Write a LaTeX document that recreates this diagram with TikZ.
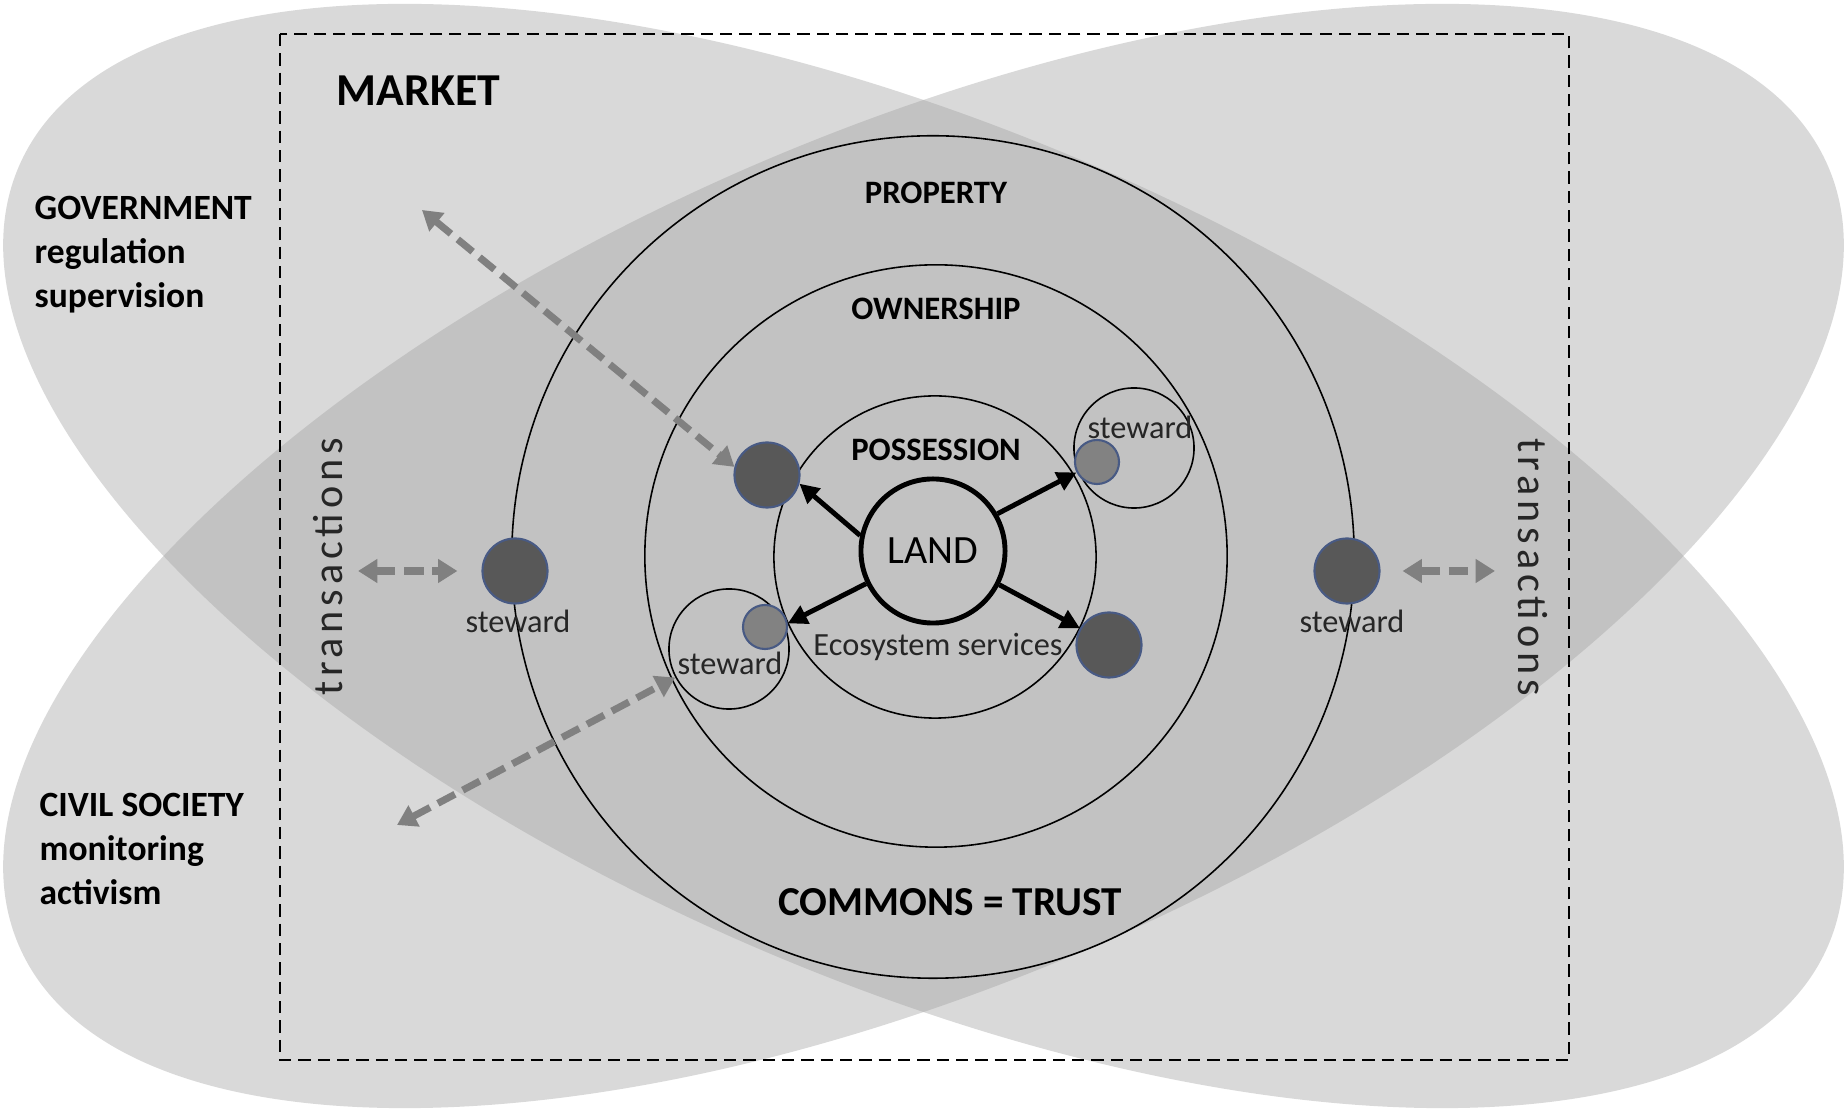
\documentclass[tikz,border=0pt]{standalone}
\usepackage{fontspec}
\setmainfont{Carlito}
\usetikzlibrary{positioning,arrows.meta}
\definecolor{blobgray}{RGB}{217,217,217}
\definecolor{overlapgray}{RGB}{194,194,194}
\definecolor{dotdark}{RGB}{88,88,88}
\definecolor{dotlight}{RGB}{130,130,130}
\definecolor{dotrim}{RGB}{72,90,132}
\definecolor{linkgray}{RGB}{128,128,128}
\definecolor{textgray}{RGB}{38,38,38}

\begin{document}
\begin{tikzpicture}[x=0.01cm, y=-0.01cm,
    ring/.style={draw, circle, line width=0.45pt, inner sep=0pt},
    bigdot/.style={draw=dotrim, fill=dotdark, circle, line width=0.6pt, minimum size=0.65cm, inner sep=0pt},
    smalldot/.style={draw=dotrim, fill=dotlight, circle, line width=0.6pt, minimum size=0.44cm, inner sep=0pt},
    layername/.style={font=\bfseries\fontsize{9.3}{11}\selectfont, inner sep=0pt},
    sidetext/.style={font=\bfseries\fontsize{10.1}{12.5}\selectfont, align=left, anchor=west, inner sep=0pt},
    stewardtext/.style={font=\fontsize{9.2}{11}\selectfont, text=textgray, inner sep=0pt},
    tradetext/.style={font=\fontsize{12}{14}\selectfont\addfontfeature{LetterSpace=11.5}, text=textgray, inner sep=0pt},
    landarrow/.style={-{Triangle[length=5.5pt,width=5.5pt]}, line width=1.4pt},
    dashlink/.style={{Triangle[length=5.5pt,width=6.5pt]}-{Triangle[length=5.5pt,width=6.5pt]}, draw=linkgray, line width=2pt, dash pattern=on 5.5pt off 2.5pt}]
    \useasboundingbox (0,0) rectangle (1847,1110);

    % government / civil society blobs and their overlap
    \fill[blobgray] (923.5,556) ellipse [x radius=985, y radius=426, rotate=-23.3];
    \fill[blobgray] (923.5,556) ellipse [x radius=985, y radius=426, rotate=23.3];
    \begin{scope}
        \clip (923.5,556) ellipse [x radius=985, y radius=426, rotate=-23.3];
        \fill[overlapgray] (923.5,556) ellipse [x radius=985, y radius=426, rotate=23.3];
    \end{scope}
    \draw[dash pattern=on 3.5pt off 2pt, line width=0.5pt] (280,34) rectangle (1569,1060);

    % rings
    \node (property) [ring, minimum size=8.42cm] at (933,557) {};
    \node (ownership) [ring, minimum size=5.82cm] at (936,556) {};
    \node (possession) [ring, minimum size=3.22cm] at (935,557) {};
    \node (land) [ring, line width=1.4pt, minimum size=1.44cm, font=\fontsize{11.4}{13}\selectfont] at (933,551) {LAND};
    \node (ringUR) [ring, minimum size=1.2cm] at (1134,448) {};
    \node (ringLL) [ring, minimum size=1.2cm] at (729,649) {};

    % labels
    \node (market) [font=\bfseries\fontsize{13}{15}\selectfont, anchor=west, inner sep=0pt] at (336,91) {MARKET};
    \node (government) [sidetext] at (34,255) {GOVERNMENT\\regulation\\supervision};
    \node (civil) [sidetext] at (39,849) {CIVIL SOCIETY\\monitoring\\activism};
    \node (propertytext) [layername] at (936,193) {PROPERTY};
    \node (ownershiptext) [layername] at (936,309) {OWNERSHIP};
    \node (possessiontext) [layername] at (936,450) {POSSESSION};
    \node (commons) [font=\bfseries\fontsize{11.7}{14}\selectfont, inner sep=0pt] at (950,902) {COMMONS = TRUST};
    \node (ecosystem) [stewardtext] at (938,647) {Ecosystem services};
    \node (tradetextL) [tradetext, rotate=90] at (328,567) {transactions};
    \node (tradetextR) [tradetext, rotate=-90] at (1533,567) {transactions};
    \node (stewardURtext) [stewardtext] at (1140,427) {steward};
    \node (stewardLLtext) [stewardtext] at (730,663) {steward};
    \node (stewardLtext) [stewardtext] at (518,621) {steward};
    \node (stewardRtext) [stewardtext] at (1352,621) {steward};

    % stewards
    \node (dotUL) [bigdot] at (767,475) {};
    \node (dotLR) [bigdot] at (1109,645) {};
    \node (dotUR) [smalldot] at (1097,462) {};
    \node (dotLL) [smalldot] at (765,627) {};
    \node (stewardL) [bigdot] at (515,571) {};
    \node (stewardR) [bigdot] at (1347,571) {};

    \coordinate (govtip) at (422,210);
    \coordinate (civiltip) at (397,825);
    \coordinate (tradeL) at (358,571);
    \coordinate (tradeR) at (1495,571);

    \draw [landarrow] (land.168) -- (dotUL.-15);
    \draw [landarrow] (land.30) -- (dotUR.207);
    \draw [landarrow] (land.206) -- (dotLL.9);
    \draw [landarrow] (land.-27) -- (dotLR.150);

    \draw [dashlink] (govtip) -- (dotUL.166);
    \draw [dashlink] (civiltip) -- (ringLL);
    \draw [dashlink, shorten >=0.24cm] (tradeL) -- (stewardL.west);
    \draw [dashlink, shorten <=0.22cm] (stewardR.east) -- (tradeR);
\end{tikzpicture}
\end{document}
